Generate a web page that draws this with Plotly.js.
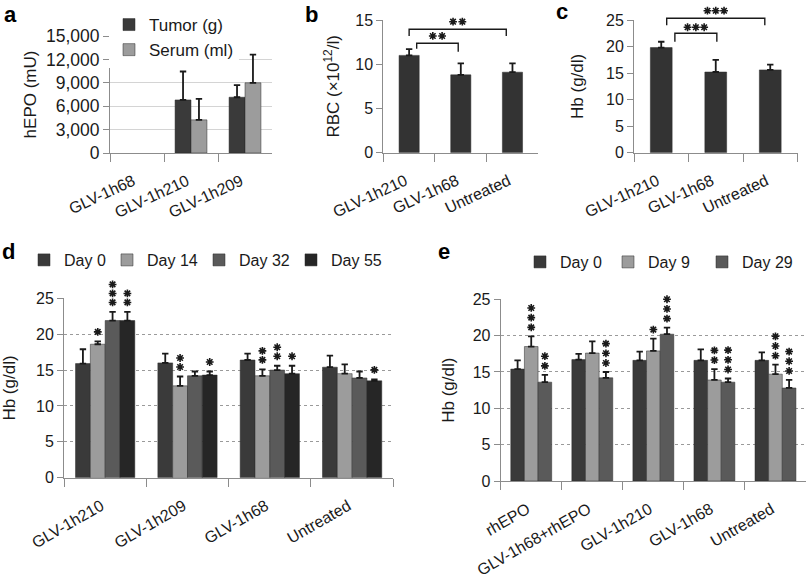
<!DOCTYPE html>
<html><head><meta charset="utf-8">
<script src="https://cdn.plot.ly/plotly-3.0.1.min.js"></script>
<style>html,body{margin:0;padding:0;background:#fff}#chart{width:807px;height:579px}</style>
</head><body><div id="chart"></div>
<script>
// ---------------- DATA ----------------
// Panel a
const aCategories = ['GLV-1h68', 'GLV-1h210', 'GLV-1h209'];
const aSeriesNames = ['Tumor (g)', 'Serum (ml)'];
const aTumor = [null, 6800, 7150];
const aTumorErr = [null, 3650, 1550];
const aSerum = [null, 4250, 9000];
const aSerumErr = [null, 2700, 3600];

// Panel b
const bCategories = ['GLV-1h210', 'GLV-1h68', 'Untreated'];
const bRBC = [11.0, 8.8, 9.1];
const bRBCErr = [0.7, 1.3, 1.0];
const bSignif = [['GLV-1h210', 'GLV-1h68', 2], ['GLV-1h210', 'Untreated', 2]];

// Panel c
const cCategories = ['GLV-1h210', 'GLV-1h68', 'Untreated'];
const cHb = [19.8, 15.2, 15.6];
const cHbErr = [1.1, 2.3, 1.0];
const cSignif = [['GLV-1h210', 'GLV-1h68', 3], ['GLV-1h210', 'Untreated', 3]];

// Panel d
const dCategories = ['GLV-1h210', 'GLV-1h209', 'GLV-1h68', 'Untreated'];
const dSeriesNames = ['Day 0', 'Day 14', 'Day 32', 'Day 55'];
const dDay0 = [15.9, 16.0, 16.4, 15.4];
const dDay0Err = [2.0, 1.3, 0.9, 1.6];
const dDay14 = [18.6, 12.8, 14.2, 14.5];
const dDay14Err = [0.4, 1.3, 0.9, 1.3];
const dDay32 = [21.9, 14.2, 15.0, 13.9];
const dDay32Err = [1.2, 0.6, 0.6, 0.9];
const dDay55 = [21.9, 14.3, 14.5, 13.5];
const dDay55Err = [1.2, 0.5, 1.1, 0.2];
const dDay0Stars = [0, 0, 0, 0];
const dDay14Stars = [1, 2, 2, 0];
const dDay32Stars = [3, 0, 2, 0];
const dDay55Stars = [2, 1, 1, 1];

// Panel e
const eCategories = ['rhEPO', 'GLV-1h68+rhEPO', 'GLV-1h210', 'GLV-1h68', 'Untreated'];
const eSeriesNames = ['Day 0', 'Day 9', 'Day 29'];
const eDay0 = [15.4, 16.7, 16.6, 16.6, 16.6];
const eDay0Err = [1.2, 0.8, 1.2, 1.5, 1.1];
const eDay9 = [18.5, 17.6, 17.9, 13.9, 14.7];
const eDay9Err = [1.4, 1.6, 1.7, 1.5, 1.3];
const eDay29 = [13.6, 14.2, 20.2, 13.6, 12.8];
const eDay29Err = [1.0, 0.8, 0.9, 0.5, 1.1];
const eDay0Stars = [0, 0, 0, 0, 0];
const eDay9Stars = [3, 0, 1, 2, 3];
const eDay29Stars = [2, 3, 3, 3, 3];

// ---------------- STYLE ----------------
const W = 807, H = 579;
const FONT = 'Liberation Sans, Arial, Helvetica, sans-serif';
const AXIS_GRAY = '#8c8c8c';
const TEXT = '#1a1a1a';
const ERR = '#1a1a1a';
const C_DARK = '#3a3a3a', C_LIGHT = '#9c9c9c', C_MID = '#5a5a5a', C_BLACK = '#262626';
const STAR_MARKER = { symbol: 'asterisk-open', size: 6.5, color: TEXT, line: { color: TEXT, width: 1.6 } };

// plot boxes in pixels: [left, right, top, bottom]
const BOX = {
  a: [110, 272, 36, 153], b: [383.3, 538.3, 20, 152.7], c: [634, 797.5, 20, 152.7],
  d: [64, 393.3, 298.3, 477.7], e: [500.7, 806, 299.3, 481]
};
function dom(b) { return { x: [b[0] / W, b[1] / W], y: [1 - b[3] / H, 1 - b[2] / H] }; }
const P = {}; Object.keys(BOX).forEach(k => P[k] = dom(BOX[k]));
function groupGeom(n, gap) { const gw = 1 - gap, bw = gw / n; return { bw: bw, off: k => -gw / 2 + k * bw }; }
const G = { a: groupGeom(2, 0.41), b: groupGeom(1, 0.61), c: groupGeom(1, 0.6), d: groupGeom(4, 0.28), e: groupGeom(3, 0.33) };

function barTrace(cats, vals, errs, color, name, k, geom, xa, ya, legendId, showlegend, lw) {
  const t = {
    type: 'bar', x: cats, y: vals, name: name, xaxis: xa, yaxis: ya,
    width: geom.bw, offset: geom.off(k),
    marker: { color: color, line: { color: '#2a2a2a', width: 0.5 } },
    error_y: { type: 'data', symmetric: false, array: errs, arrayminus: errs.map(() => 0),
      color: ERR, thickness: 1.8, width: 3.2 },
    legend: legendId, showlegend: showlegend, hoverinfo: 'skip'
  };
  if (lw) t.legendwidth = lw;
  return t;
}

const traces = [
  barTrace(aCategories, aTumor, aTumorErr, C_DARK, aSeriesNames[0], 0, G.a, 'x', 'y', 'legend', true),
  barTrace(aCategories, aSerum, aSerumErr, C_LIGHT, aSeriesNames[1], 1, G.a, 'x', 'y', 'legend', true),
  barTrace(bCategories, bRBC, bRBCErr, '#333333', 'RBC', 0, G.b, 'x2', 'y2', 'legend', false),
  barTrace(cCategories, cHb, cHbErr, '#333333', 'Hb', 0, G.c, 'x3', 'y3', 'legend', false)
];
const dSeries = [
  { v: dDay0, e: dDay0Err, s: dDay0Stars, c: C_DARK, lw: 38 },
  { v: dDay14, e: dDay14Err, s: dDay14Stars, c: C_LIGHT, lw: 47 },
  { v: dDay32, e: dDay32Err, s: dDay32Stars, c: C_MID, lw: 47 },
  { v: dDay55, e: dDay55Err, s: dDay55Stars, c: C_BLACK, lw: 50 }
];
dSeries.forEach((s, k) => traces.push(barTrace(dCategories, s.v, s.e, s.c, dSeriesNames[k], k, G.d, 'x4', 'y4', 'legend2', true, s.lw)));
const eSeries = [
  { v: eDay0, e: eDay0Err, s: eDay0Stars, c: C_DARK, lw: 43 },
  { v: eDay9, e: eDay9Err, s: eDay9Stars, c: C_LIGHT, lw: 49 },
  { v: eDay29, e: eDay29Err, s: eDay29Stars, c: C_MID, lw: 50 }
];
eSeries.forEach((s, k) => traces.push(barTrace(eCategories, s.v, s.e, s.c, eSeriesNames[k], k, G.e, 'x5', 'y5', 'legend3', true, s.lw)));

// Companion (invisible) subplots that share each panel's scale but extend higher, for asterisks and brackets
function companion(box, nCats, yMax, extra, xa, ya) {
  const pxPerUnit = (box[3] - box[2]) / yMax;
  const d = dom([box[0], box[1], box[2] - extra * pxPerUnit, box[3]]);
  return {
    pxPerUnit: pxPerUnit, pxPerCat: (box[1] - box[0]) / nCats, xa: xa, ya: ya,
    axes: [
      { domain: d.x, anchor: ya, range: [-0.5, nCats - 0.5], visible: false, fixedrange: true },
      { domain: d.y, anchor: xa, range: [0, yMax + extra], visible: false, fixedrange: true }
    ]
  };
}
const compB = companion(BOX.b, bCategories.length, 15, 2, 'x6', 'y6');
const compC = companion(BOX.c, cCategories.length, 25, 3, 'x7', 'y7');
const compD = companion(BOX.d, dCategories.length, 25, 5, 'x8', 'y8');
const compE = companion(BOX.e, eCategories.length, 25, 5, 'x9', 'y9');

function starTrace(series, geom, comp, base, step) {
  const xs = [], ys = [];
  series.forEach((s, k) => s.s.forEach((n, i) => {
    for (let j = 0; j < n; j++) {
      xs.push(i + geom.off(k) + geom.bw / 2);
      ys.push(s.v[i] + s.e[i] + (base + j * step) / comp.pxPerUnit);
    }
  }));
  return { type: 'scatter', mode: 'markers', x: xs, y: ys, xaxis: comp.xa, yaxis: comp.ya, showlegend: false,
    hoverinfo: 'skip', cliponaxis: false, marker: STAR_MARKER };
}
traces.push(starTrace(dSeries, G.d, compD, 9.5, 9));
traces.push(starTrace(eSeries, G.e, compE, 9, 9.7));

// significance brackets: [insetL, insetR, line level, left foot, right foot]
function bracket(cats, sig, comp, geo, starGapPx, starSpacingPx) {
  const i0 = cats.indexOf(sig[0]) + geo[0], i1 = cats.indexOf(sig[1]) - geo[1];
  traces.push({ type: 'scatter', mode: 'lines', x: [i0, i0, i1, i1], y: [geo[3], geo[2], geo[2], geo[4]],
    xaxis: comp.xa, yaxis: comp.ya, showlegend: false, hoverinfo: 'skip', cliponaxis: false,
    line: { color: '#1a1a1a', width: 1.4 } });
  const n = sig[2], xs = [], ys = [];
  for (let m = 0; m < n; m++) {
    xs.push((i0 + i1) / 2 + (m - (n - 1) / 2) * starSpacingPx / comp.pxPerCat);
    ys.push(geo[2] + starGapPx / comp.pxPerUnit);
  }
  traces.push({ type: 'scatter', mode: 'markers', x: xs, y: ys, xaxis: comp.xa, yaxis: comp.ya, showlegend: false,
    hoverinfo: 'skip', cliponaxis: false, marker: STAR_MARKER });
}
bracket(bCategories, bSignif[0], compB, [0.146, 0.05, 12.37, 11.75, 11.42], 7.3, 9.3);
bracket(bCategories, bSignif[1], compB, [0.0, 0.12, 13.95, 13.19, 13.19], 7.6, 9.3);
bracket(cCategories, cSignif[0], compC, [0.25, -0.02, 22.5, 20.9, 20.9], 6, 8.3);
bracket(cCategories, cSignif[1], compC, [0.1, 0.1, 25.32, 24.0, 24.0], 7.6, 8.3);

const annotations = [];
// panel letters
[['a', 2, 29], ['b', 303, 29], ['c', 554, 26], ['d', 0, 266], ['e', 436, 266]].forEach(p => {
  annotations.push({ xref: 'paper', yref: 'paper', x: p[1] / W, y: 1 - p[2] / H, xanchor: 'left', yanchor: 'bottom',
    text: '<b>' + p[0] + '</b>', showarrow: false, font: { family: FONT, size: 22, color: '#000' } });
});

function xAxis(d, angle, anchor) {
  return { domain: d, anchor: anchor, type: 'category', showline: true, linecolor: AXIS_GRAY, linewidth: 1,
    ticks: 'outside', tickson: 'boundaries', ticklen: 8, tickcolor: AXIS_GRAY, tickwidth: 1,
    tickangle: angle, showgrid: false, zeroline: false, fixedrange: true,
    ticklabelstandoff: 12, ticklabelshift: -4,
    tickfont: { family: FONT, size: 16, color: TEXT } };
}
function yAxis(d, anchor, range, dtick, title, grid, griddash, standoff, tsize, fmt) {
  return { domain: d, anchor: anchor, range: range, dtick: dtick, tick0: 0, showline: true, linecolor: AXIS_GRAY,
    linewidth: 1, ticks: 'outside', ticklen: 6, tickcolor: AXIS_GRAY, zeroline: false, fixedrange: true,
    showgrid: grid, gridcolor: griddash === 'dot' ? '#9a9a9a' : '#d4d4d4', griddash: griddash, gridwidth: 1,
    tickformat: fmt || '', tickfont: { family: FONT, size: tsize, color: TEXT },
    title: { text: title, font: { family: FONT, size: 17, color: TEXT }, standoff: standoff } };
}

const layout = {
  width: W, height: H, margin: { l: 0, r: 0, t: 0, b: 0 },
  paper_bgcolor: '#fff', plot_bgcolor: 'rgba(0,0,0,0)',
  font: { family: FONT, size: 16, color: TEXT },
  barmode: 'group', bargap: 0.3,
  xaxis: xAxis(P.a.x, -25, 'y'), yaxis: yAxis(P.a.y, 'x', [0, 15000], 3000, 'hEPO (mU)', true, 'solid', 5, 17.5, ',d'),
  xaxis2: xAxis(P.b.x, -25, 'y2'), yaxis2: yAxis(P.b.y, 'x2', [0, 15], 5, 'RBC (×10<sup>12</sup>/l)', false, 'solid', 11, 16),
  xaxis3: xAxis(P.c.x, -25, 'y3'), yaxis3: yAxis(P.c.y, 'x3', [0, 25], 5, 'Hb (g/dl)', false, 'solid', 18, 16),
  xaxis4: xAxis(P.d.x, -30, 'y4'), yaxis4: yAxis(P.d.y, 'x4', [0, 25], 5, 'Hb (g/dl)', true, 'dot', 16, 16),
  xaxis5: xAxis(P.e.x, -30, 'y5'), yaxis5: yAxis(P.e.y, 'x5', [0, 25], 5, 'Hb (g/dl)', true, 'dot', 13, 16),
  xaxis6: compB.axes[0], yaxis6: compB.axes[1],
  xaxis7: compC.axes[0], yaxis7: compC.axes[1],
  xaxis8: compD.axes[0], yaxis8: compD.axes[1],
  xaxis9: compE.axes[0], yaxis9: compE.axes[1],
  legend: { x: 109 / W, y: 1 - 7 / H, xanchor: 'left', yanchor: 'top', bgcolor: '#fff', orientation: 'v',
    font: { family: FONT, size: 17, color: TEXT }, tracegroupgap: 0 },
  legend2: { x: 24 / W, y: 1 - 243 / H, xanchor: 'left', yanchor: 'top', bgcolor: 'rgba(0,0,0,0)', orientation: 'h',
    font: { family: FONT, size: 16, color: TEXT } },
  legend3: { x: 520 / W, y: 1 - 245 / H, xanchor: 'left', yanchor: 'top', bgcolor: 'rgba(0,0,0,0)', orientation: 'h',
    font: { family: FONT, size: 16, color: TEXT } },
  annotations: annotations
};

Plotly.newPlot('chart', traces, layout, { staticPlot: true, displayModeBar: false });
</script></body></html>
